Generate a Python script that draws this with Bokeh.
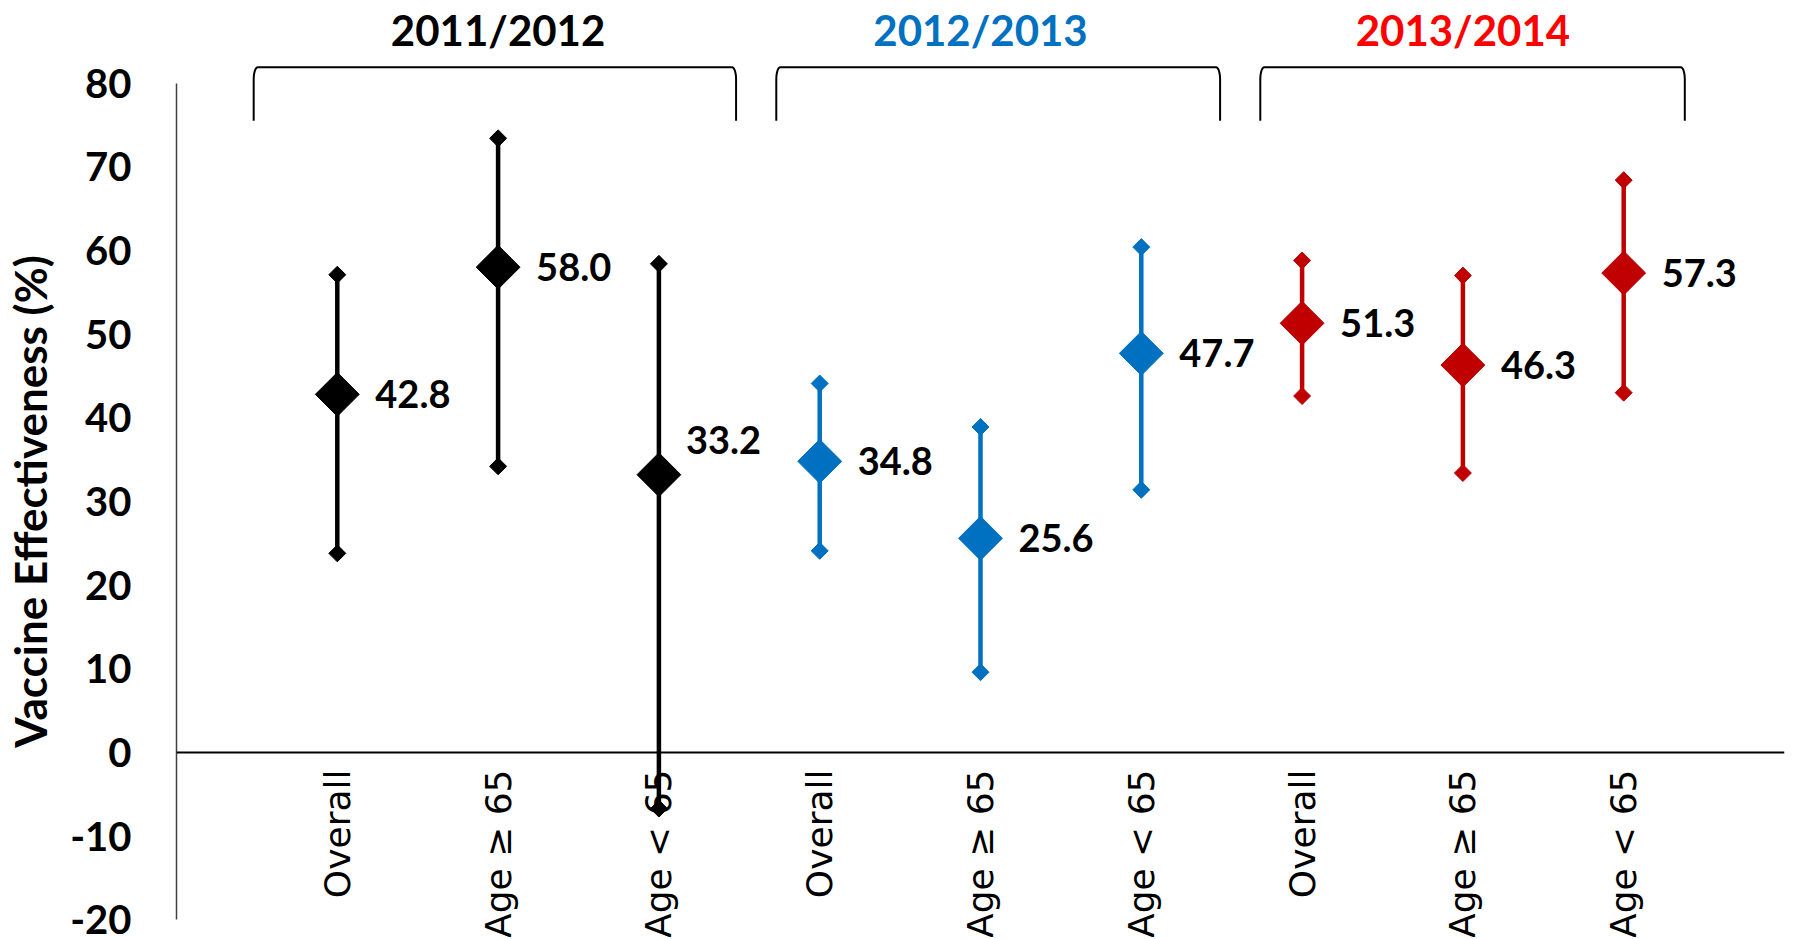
import math
from bokeh.plotting import figure
from bokeh.layouts import row
from bokeh.models import ColumnDataSource, FixedTicker, Span, Range1d
from bokeh.core.properties import value
from bokeh.embed import file_html
from bokeh.resources import INLINE

# ---------------- data ----------------
seasons = ["2011/2012", "2012/2013", "2013/2014"]
groups = ["Overall", "Age \u2265 65", "Age < 65"]
ve = [42.8, 58.0, 33.2, 34.8, 25.6, 47.7, 51.3, 46.3, 57.3]
ci_low = [23.8, 34.2, -6.7, 24.1, 9.6, 31.4, 42.6, 33.4, 43.0]
ci_high = [57.1, 73.4, 58.4, 44.1, 38.9, 60.4, 58.8, 57.0, 68.4]
y_ticks = [-20, -10, 0, 10, 20, 30, 40, 50, 60, 70, 80]
y_title = "Vaccine Effectiveness (%)"

# ---------------- styles ----------------
season_colors = ["#000000", "#0070C0", "#C00000"]
season_title_colors = ["#000000", "#0070C0", "#FF0000"]
label_dx = [38, 38, 27, 38, 38, 38, 38, 38, 38]
label_dy = [0, 0, -35, 0, 0, 0, 0, 0, 0]
bracket_x0 = [0.48, 3.73, 6.74]
bracket_x1 = [3.48, 6.49, 9.38]
bracket_top, bracket_bottom = 81.9, 75.5
title_y = 86.4

n = len(groups)
xs, colors, cats = [], [], []
for s in range(len(seasons)):
    for g in range(n):
        xs.append(s * n + g + 1)
        colors.append(season_colors[s])
        cats.append(groups[g])

src = ColumnDataSource(dict(
    x=xs, ve=ve, lo=ci_low, hi=ci_high, color=colors, cat=cats,
    lab=[f"{v:.1f}" for v in ve], dx=label_dx, dy=label_dy,
    zero=[0] * len(xs),
))

PX_PER_UNIT = 8.3675
FRAME_H = 937
LABEL_W = 64
y_top = 752 / PX_PER_UNIT
y_bot = y_top - FRAME_H / PX_PER_UNIT
yr = Range1d(y_bot, y_top)

# ---- narrow strip holding the y-axis title ----
lf = figure(frame_width=LABEL_W, frame_height=FRAME_H,
            x_range=Range1d(0, LABEL_W), y_range=yr,
            output_backend="svg", toolbar_location=None,
            min_border_left=0, min_border_right=0, min_border_top=0, min_border_bottom=0)
lf.axis.visible = False
lf.grid.visible = False
lf.outline_line_color = None
lf.text(x=[29.5], y=[(y_ticks[0] + y_ticks[-1]) / 2], text=[y_title], angle=math.pi / 2,
        text_align="center", text_baseline="alphabetic",
        text_font=value("Lato"), text_font_style="bold", text_font_size="44px",
        text_color="black")

# ---- main chart ----
p = figure(frame_width=1608, frame_height=FRAME_H,
           x_range=Range1d(0, 10), y_range=yr,
           output_backend="svg", toolbar_location=None,
           min_border_left=176 - LABEL_W, min_border_right=8,
           min_border_top=0, min_border_bottom=0)
p.xaxis.visible = False
p.xgrid.visible = False
p.ygrid.visible = False
p.outline_line_color = None

ya = p.yaxis[0]
ya.ticker = FixedTicker(ticks=y_ticks)
ya.bounds = (y_ticks[0], y_ticks[-1])
ya.major_label_overrides = {t: str(t) for t in y_ticks}
ya.major_tick_line_color = None
ya.minor_tick_line_color = None
ya.axis_line_color = "#404040"
ya.axis_line_width = 1.5
ya.major_label_text_font = "Lato"
ya.major_label_text_font_style = "bold"
ya.major_label_text_font_size = "40px"
ya.major_label_text_color = "black"
ya.major_label_standoff = 39

p.add_layout(Span(location=0, dimension="width", line_color="black", line_width=2))

# error bars
p.segment(x0="x", y0="lo", x1="x", y1="hi", line_color="color", line_width=4.5, source=src)
p.scatter(x="x", y="lo", marker="square", size=12, angle=math.pi / 4,
          fill_color="color", line_color="color", source=src)
p.scatter(x="x", y="hi", marker="square", size=12, angle=math.pi / 4,
          fill_color="color", line_color="color", source=src)
p.scatter(x="x", y="ve", marker="square", size=31, angle=math.pi / 4,
          fill_color="color", line_color="color", source=src)

# value labels
p.text(x="x", y="ve", text="lab", x_offset="dx", y_offset="dy", source=src,
       text_font=value("Lato"), text_font_style="bold", text_font_size="38px",
       text_color="black", text_align="left", text_baseline="middle")

# category labels (rotated)
p.text(x="x", y="zero", text="cat", angle=math.pi / 2, y_offset=17, source=src,
       text_font=value("DejaVu Sans"), text_font_size="36px", text_color="black",
       text_align="right", text_baseline="middle")

# season titles
title_x = [s * n + (n + 1) / 2 for s in range(len(seasons))]
p.text(x=title_x, y=[title_y] * len(seasons), text=seasons,
       text_color=season_title_colors, text_font=value("Lato"),
       text_font_style="bold", text_font_size="42px",
       text_align="center", text_baseline="middle")

# brackets
rx = 4 / 160.8
ry = 12 / PX_PER_UNIT
bx, by = [], []
for x0, x1 in zip(bracket_x0, bracket_x1):
    px, py = [x0], [bracket_bottom]
    for k in range(7):
        t = math.pi - k * (math.pi / 2) / 6
        px.append(x0 + rx + rx * math.cos(t))
        py.append(bracket_top - ry + ry * math.sin(t))
    for k in range(7):
        t = math.pi / 2 - k * (math.pi / 2) / 6
        px.append(x1 - rx + rx * math.cos(t))
        py.append(bracket_top - ry + ry * math.sin(t))
    px.append(x1)
    py.append(bracket_bottom)
    bx.append(px)
    by.append(py)
p.multi_line(xs=bx, ys=by, line_color="black", line_width=2)

layout = row(lf, p, spacing=0)
open("out.html", "w").write(file_html(layout, INLINE))
